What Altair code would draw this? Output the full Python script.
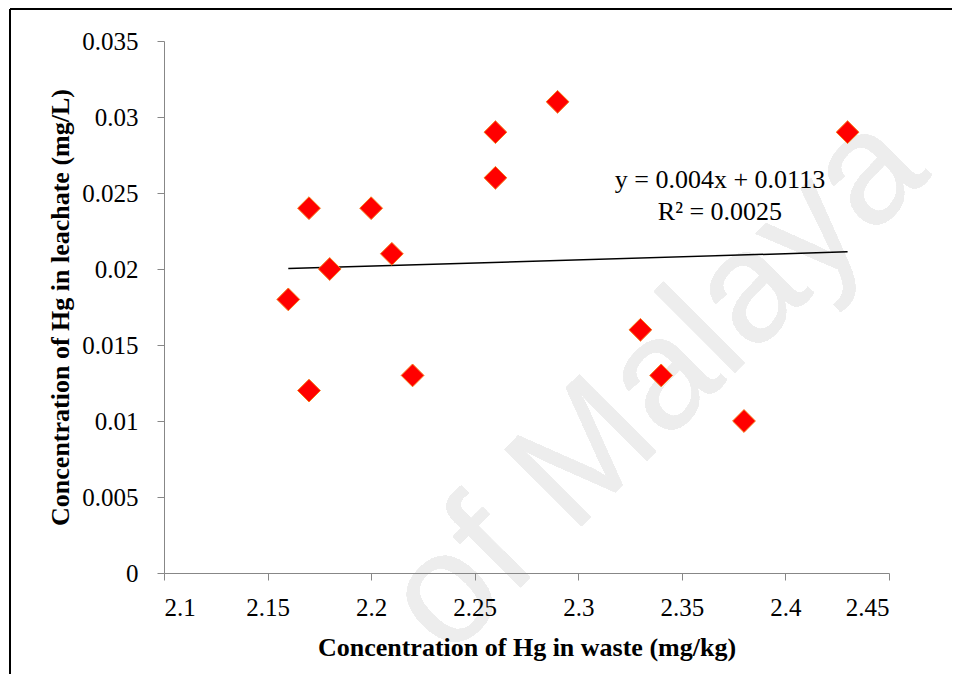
import altair as alt
import pandas as pd

# --- data ---
hg_waste = [2.16, 2.17, 2.17, 2.18, 2.20, 2.21, 2.22, 2.26, 2.26, 2.29, 2.33, 2.34, 2.38, 2.43]
hg_leachate = [0.018, 0.024, 0.012, 0.020, 0.024, 0.021, 0.013, 0.026, 0.029, 0.031, 0.016, 0.013, 0.010, 0.029]

x_ticks = [2.1, 2.15, 2.2, 2.25, 2.3, 2.35, 2.4, 2.45]
y_ticks = [0, 0.005, 0.01, 0.015, 0.02, 0.025, 0.03, 0.035]

equation_lines = ["y = 0.004x + 0.0113", "R\u00b2 = 0.0025"]
equation_x = [2.3684, 2.3684]
equation_y = [0.0253, 0.0232]

watermark_text = "of Malaya"

x_title = "Concentration of Hg in waste (mg/kg)"
y_title = "Concentration of Hg in leachate (mg/L)"

df = pd.DataFrame({"x": hg_waste, "y": hg_leachate})
eq_df = pd.DataFrame({"x": equation_x, "y": equation_y, "t": equation_lines})

SERIF = "Liberation Serif"
AXIS_GRAY = "#878787"

x_scale = alt.Scale(domain=[2.1, 2.45], nice=False, zero=False)
y_scale = alt.Scale(domain=[0, 0.035], nice=False)

x_axis = alt.Axis(
    values=x_ticks, format="~g", grid=False, zindex=1,
    domainColor=AXIS_GRAY, tickColor=AXIS_GRAY, tickSize=7,
    labelFont=SERIF, labelFontSize=25, labelColor="black", labelPadding=15,
    title=x_title, titleFont=SERIF, titleFontSize=26, titleFontWeight="bold",
    titleColor="black", titleBaseline="alphabetic", titleY=82, titleX=362.5,
)
y_axis = alt.Axis(
    values=y_ticks, format="~g", grid=False, zindex=1,
    domainColor=AXIS_GRAY, tickColor=AXIS_GRAY, tickSize=7,
    labelFont=SERIF, labelFontSize=25, labelColor="black", labelPadding=19,
    title=y_title, titleFont=SERIF, titleFontSize=26, titleFontWeight="bold",
    titleColor="black", titleBaseline="alphabetic", titleX=-96, titleY=266,
    titleAngle=270,
)

base = alt.Chart(df)

# decorative page frame (left and top edges visible)
frame_top = base.mark_rule(color="black", strokeWidth=2).encode(
    x=alt.value(-154), x2=alt.value(800), y=alt.value(-32)
)
frame_left = base.mark_rule(color="black", strokeWidth=2).encode(
    x=alt.value(-154), y=alt.value(-32), y2=alt.value(700)
)

watermark = base.mark_text(
    text=watermark_text, font="Liberation Sans", fontSize=158, color="#ededed",
    angle=315, align="center", baseline="middle",
).encode(x=alt.value(493), y=alt.value(343))

points = base.mark_point(
    shape="diamond", filled=True, fill="#ff0000", stroke="#f57a1a",
    strokeWidth=1, size=520, opacity=1,
).encode(
    x=alt.X("x:Q", scale=x_scale, axis=x_axis),
    y=alt.Y("y:Q", scale=y_scale, axis=y_axis),
)

trend = base.transform_regression("x", "y").mark_line(
    color="black", strokeWidth=1.5
).encode(x=alt.X("x:Q", scale=x_scale), y=alt.Y("y:Q", scale=y_scale))

equation = alt.Chart(eq_df).mark_text(
    font=SERIF, fontSize=26, color="black", align="center", baseline="alphabetic"
).encode(
    x=alt.X("x:Q", scale=x_scale), y=alt.Y("y:Q", scale=y_scale), text="t:N"
)

chart = alt.layer(watermark, frame_top, frame_left, trend, points, equation).properties(
    width=725, height=532,
    autosize=alt.AutoSizeParams(type="none"),
    padding={"left": 156, "top": 33, "right": 63, "bottom": 101},
    background="white",
).configure_view(stroke=None)

chart.save("out.html", embed_options={"renderer": "svg", "actions": False})
